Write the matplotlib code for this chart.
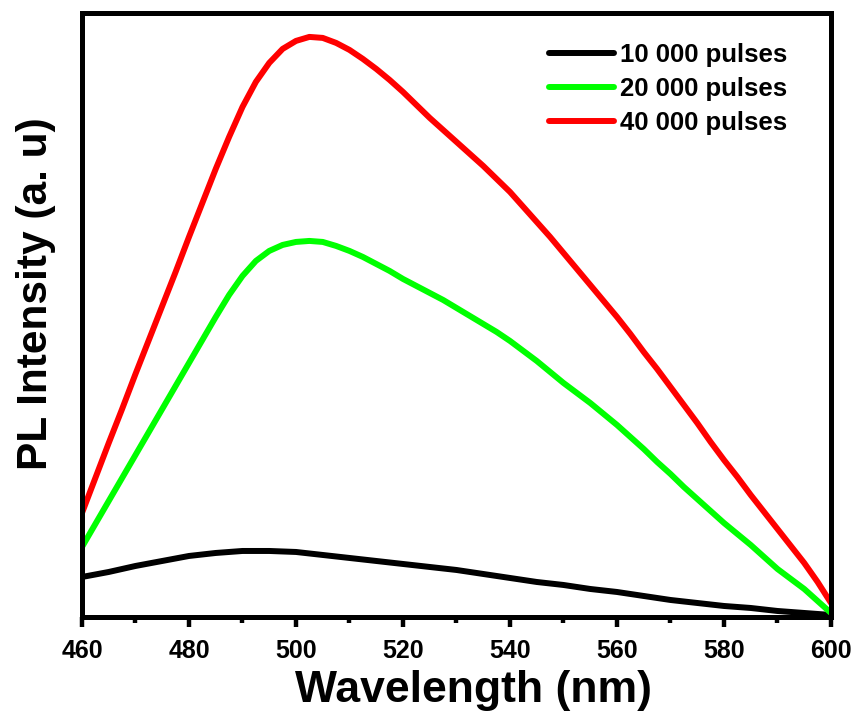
import matplotlib
matplotlib.use("Agg")
import matplotlib.pyplot as plt
from matplotlib.ticker import MultipleLocator

plt.rcParams['font.family'] = ['Liberation Sans', 'DejaVu Sans']

wavelength = [460 + 2.5 * i for i in range(57)]

pulses_10000 = [40, 42.5, 45, 48, 51, 53.5, 56, 58.5, 61, 62.5, 64, 65, 66, 66, 66,
                65.5, 65, 63.5, 62, 60.5, 59, 57.5, 56, 54.5, 53, 51.5, 50, 48.5,
                47, 45, 43, 41, 39, 37, 35, 33.5, 32, 30, 28, 26.5, 25, 23, 21,
                19, 17, 15.5, 14, 12.5, 11, 10, 9, 7.5, 6, 5, 4, 3, 2]
pulses_20000 = [70, 93, 116, 139, 162, 185, 208, 231, 254, 277, 300, 322, 341, 356,
                366, 372, 375, 376, 375, 371, 366, 360, 353, 346, 338, 331, 324,
                317, 309, 301, 293, 285, 276, 266, 256, 245, 234, 224, 214, 203,
                192, 180, 168, 155, 143, 130, 118, 106, 94, 83, 72, 60, 48, 38,
                28, 16, 4]
pulses_40000 = [104, 139, 174, 208, 243, 277, 311, 345, 380, 414, 448, 480, 510,
                535, 554, 568, 576, 580, 579, 574, 567, 558, 548, 537, 525, 512,
                499, 487, 475, 463, 451, 438, 425, 410, 395, 380, 364, 348, 332,
                316, 300, 283, 265, 248, 230, 212, 194, 175, 157, 140, 122, 105,
                88, 71, 54, 35, 14]

labels = ['10 000 pulses', '20 000 pulses', '40 000 pulses']
colors = ['#000000', '#00ff00', '#ff0000']
xticks = [460, 480, 500, 520, 540, 560, 580, 600]

fig = plt.figure(figsize=(8.55, 7.17), dpi=100)
ax = fig.add_axes([0.0959, 0.1395, 0.876, 0.8425])

for ys, lab, c in zip([pulses_10000, pulses_20000, pulses_40000], labels, colors):
    ax.plot(wavelength, ys, color=c, lw=4.3, label=lab, solid_capstyle='round',
            solid_joinstyle='round')

ax.set_xlim(460, 600)
ax.set_ylim(0, 604)
ax.set_xticks(xticks)
ax.xaxis.set_minor_locator(MultipleLocator(10))
ax.set_yticks([])
for s in ax.spines.values():
    s.set_linewidth(3.6)
ax.tick_params(axis='x', which='major', direction='out', length=7, width=3.2,
               labelsize=18, pad=9)
ax.tick_params(axis='x', which='minor', direction='out', length=4, width=3.2)
for t in ax.get_xticklabels():
    t.set_fontweight('bold')

ax.set_xlabel('Wavelength (nm)', fontsize=32, fontweight='bold')
ax.set_ylabel('PL Intensity (a. u)', fontsize=30.5, fontweight='bold')
ax.xaxis.set_label_coords(0.523, -0.088)
ax.yaxis.set_label_coords(-0.035, 0.536)

leg = ax.legend(loc='upper right', frameon=False, fontsize=18.5,
                handlelength=2.55, handletextpad=0.2, labelspacing=0.38,
                bbox_to_anchor=(0.941, 0.95), borderaxespad=0, borderpad=0)
for t in leg.get_texts():
    t.set_fontweight('bold')

fig.savefig('out.png', dpi=100)
